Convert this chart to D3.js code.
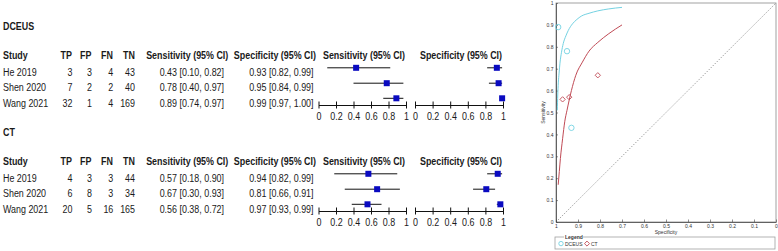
<!DOCTYPE html>
<html><head><meta charset="utf-8">
<script src="https://cdn.jsdelivr.net/npm/d3@7"></script>
<style>body{margin:0;background:#fff} svg{display:block}</style>
</head><body>
<svg id="c" width="778" height="251"></svg>
<script>
// ---------------- data ----------------
const groups = ["DCEUS", "CT"];
const studies = ["He 2019", "Shen 2020", "Wang 2021"];
const tp = [[3, 7, 32], [4, 6, 20]];
const fp = [[3, 2, 1], [3, 8, 5]];
const fn = [[4, 2, 4], [3, 3, 16]];
const tn = [[43, 40, 169], [44, 34, 165]];
const sens   = [[0.43, 0.78, 0.89], [0.57, 0.67, 0.56]];
const sensLo = [[0.10, 0.40, 0.74], [0.18, 0.30, 0.38]];
const sensHi = [[0.82, 0.97, 0.97], [0.90, 0.93, 0.72]];
const spec   = [[0.93, 0.95, 0.99], [0.94, 0.81, 0.97]];
const specLo = [[0.82, 0.84, 0.97], [0.82, 0.66, 0.93]];
const specHi = [[0.99, 0.99, 1.00], [0.99, 0.91, 0.99]];
const forestTicks = [0, 0.2, 0.4, 0.6, 0.8, 1];
const forestTickLabels = ["0", "0.2", "0.4", "0.6", "0.8", "1"];
const srocTicks = [0, 0.1, 0.2, 0.3, 0.4, 0.5, 0.6, 0.7, 0.8, 0.9, 1];
const srocTickLabels = ["0", "0.1", "0.2", "0.3", "0.4", "0.5", "0.6", "0.7", "0.8", "0.9", "1"];
// SROC curves (specificity, sensitivity)
const dceusCurveSpec = [0.994, 0.992, 0.9895, 0.986, 0.982, 0.975, 0.967, 0.955, 0.944, 0.925, 0.905, 0.885, 0.85, 0.81, 0.76, 0.70];
const dceusCurveSens = [0.51, 0.58, 0.635, 0.68, 0.725, 0.775, 0.815, 0.85, 0.875, 0.905, 0.925, 0.94, 0.953, 0.964, 0.973, 0.98];
const ctCurveSpec = [0.990, 0.985, 0.980, 0.970, 0.960, 0.950, 0.930, 0.910, 0.880, 0.850, 0.810, 0.760, 0.700];
const ctCurveSens = [0.17, 0.23, 0.29, 0.38, 0.46, 0.51, 0.60, 0.67, 0.73, 0.78, 0.82, 0.86, 0.90];

// ---------------- drawing ----------------
const svg = d3.select("#c");
const FONT = "'Liberation Sans', Arial, sans-serif";
const NARROW = 0.81;
const txtCol = "#1a1a1a";
const blue = "#0a0ac0";
const cyan = "#74d2e2";
const red = "#c04a55";

function ntext(g, x, y, str, anchor, bold) {
  return g.append("text")
    .attr("transform", `translate(${x},${y}) scale(${NARROW},1)`)
    .attr("text-anchor", anchor)
    .attr("font-family", FONT)
    .attr("font-size", 11)
    .attr("font-weight", bold ? "bold" : "normal")
    .attr("fill", txtCol)
    .text(str);
}
const f2 = d3.format(".2f");

const xSens = d3.scaleLinear().domain([0, 1]).range([318.5, 406]);
const xSpec = d3.scaleLinear().domain([0, 1]).range([415, 503]);

const sectionOffset = [0, 106];
const rowBase = [75.8, 91.2, 106.5];
const rowMark = [67.8, 83.2, 98.3];

groups.forEach((gName, gi) => {
  const off = sectionOffset[gi];
  const g = svg.append("g").attr("transform", `translate(0,${off})`);
  ntext(g, 3, 29.7, gName, "start", true);
  const hy = 59;
  ntext(g, 3, hy, "Study", "start", true);
  ntext(g, 72, hy, "TP", "end", true);
  ntext(g, 91.5, hy, "FP", "end", true);
  ntext(g, 113, hy, "FN", "end", true);
  ntext(g, 135, hy, "TN", "end", true);
  ntext(g, 228.3, hy, "Sensitivity (95% CI)", "end", true);
  ntext(g, 316, hy, "Specificity (95% CI)", "end", true);
  ntext(g, 364, hy, "Sensitivity (95% CI)", "middle", true);
  ntext(g, 461, hy, "Specificity (95% CI)", "middle", true);

  studies.forEach((s, i) => {
    const y = rowBase[i];
    ntext(g, 3, y, s, "start", false);
    ntext(g, 72.5, y, tp[gi][i], "end", false);
    ntext(g, 92, y, fp[gi][i], "end", false);
    ntext(g, 113.3, y, fn[gi][i], "end", false);
    ntext(g, 135, y, tn[gi][i], "end", false);
    ntext(g, 224, y, `${f2(sens[gi][i])} [${f2(sensLo[gi][i])}, ${f2(sensHi[gi][i])}]`, "end", false);
    ntext(g, 313.5, y, `${f2(spec[gi][i])} [${f2(specLo[gi][i])}, ${f2(specHi[gi][i])}]`, "end", false);

    const my = rowMark[i];
    g.append("line").attr("x1", xSens(sensLo[gi][i])).attr("x2", xSens(sensHi[gi][i]))
      .attr("y1", my).attr("y2", my).attr("stroke", "#111").attr("stroke-width", 1);
    g.append("rect").attr("x", xSens(sens[gi][i]) - 3).attr("y", my - 3)
      .attr("width", 6).attr("height", 6).attr("fill", blue);
    g.append("line").attr("x1", xSpec(specLo[gi][i])).attr("x2", xSpec(specHi[gi][i]))
      .attr("y1", my).attr("y2", my).attr("stroke", "#111").attr("stroke-width", 1);
    g.append("rect").attr("x", xSpec(spec[gi][i]) - 3).attr("y", my - 3)
      .attr("width", 6).attr("height", 6).attr("fill", blue);
  });

  [xSens, xSpec].forEach(sc => {
    const ax = g.append("g").attr("transform", "translate(0,105)")
      .call(d3.axisBottom(sc).tickValues(forestTicks)
        .tickFormat((d, i) => forestTickLabels[i]).tickSizeOuter(0).tickSizeInner(3.5));
    ax.select(".domain").attr("stroke", "#111");
    ax.selectAll(".tick line").attr("y1", -3.5).attr("y2", 3.5).attr("stroke", "#111");
    ax.selectAll(".tick text").attr("y", 15.5).attr("dy", 0)
      .attr("transform", `scale(${NARROW},1)`)
      .attr("font-family", FONT).attr("font-size", 11).attr("fill", txtCol);
  });
});

// ---------------- SROC plot ----------------
const sx = d3.scaleLinear().domain([1, 0]).range([556, 776]);
const sy = d3.scaleLinear().domain([0, 1]).range([222, 3]);
const sroc = svg.append("g");

sroc.append("rect").attr("x", sx(1)).attr("y", sy(1))
  .attr("width", sx(0) - sx(1)).attr("height", sy(0) - sy(1))
  .attr("fill", "none").attr("stroke", "#8a8a8a").attr("stroke-width", 0.8);

sroc.append("line").attr("x1", sx(1)).attr("y1", sy(0)).attr("x2", sx(0)).attr("y2", sy(1))
  .attr("stroke", "#777").attr("stroke-width", 0.8).attr("stroke-dasharray", "1.2,1.6");

const yAx = sroc.append("g").attr("transform", `translate(${sx(1)},0)`)
  .call(d3.axisLeft(sy).tickValues(srocTicks).tickFormat((d, i) => srocTickLabels[i])
    .tickSizeInner(-2).tickSizeOuter(0).tickPadding(2.5));
const xAx = sroc.append("g").attr("transform", `translate(0,${sy(0)})`)
  .call(d3.axisBottom(sx).tickValues(srocTicks).tickFormat((d, i) => srocTickLabels[i])
    .tickSizeInner(-2.5).tickSizeOuter(0).tickPadding(2.6));
[yAx, xAx].forEach(a => {
  a.select(".domain").attr("stroke", "#444").attr("stroke-width", 0.8);
  a.selectAll(".tick line").attr("stroke", "#444").attr("stroke-width", 0.6);
  a.selectAll(".tick text").attr("font-family", FONT).attr("font-size", 5).attr("fill", "#333");
});

sroc.append("text").attr("x", sx(0.5)).attr("y", 233.6).attr("text-anchor", "middle")
  .attr("font-family", FONT).attr("font-size", 5).attr("fill", "#333").text("Specificity");
sroc.append("text").attr("transform", `translate(544.5,${sy(0.5)}) rotate(-90)`)
  .attr("text-anchor", "middle").attr("font-family", FONT).attr("font-size", 5)
  .attr("fill", "#333").text("Sensitivity");

const line = d3.line().x(d => sx(d[0])).y(d => sy(d[1])).curve(d3.curveMonotoneX);
sroc.append("path").datum(dceusCurveSpec.map((s, i) => [s, dceusCurveSens[i]]))
  .attr("d", line).attr("fill", "none").attr("stroke", cyan).attr("stroke-width", 1);
sroc.append("path").datum(ctCurveSpec.map((s, i) => [s, ctCurveSens[i]]))
  .attr("d", line).attr("fill", "none").attr("stroke", red).attr("stroke-width", 1);

sens[0].forEach((v, i) => {
  sroc.append("circle").attr("cx", sx(spec[0][i])).attr("cy", sy(v)).attr("r", 2.7)
    .attr("fill", "none").attr("stroke", cyan).attr("stroke-width", 0.9);
});
const diamond = d3.symbol().type(d3.symbolDiamond2).size(18);
sens[1].forEach((v, i) => {
  sroc.append("path").attr("d", diamond)
    .attr("transform", `translate(${sx(spec[1][i])},${sy(v)})`)
    .attr("fill", "none").attr("stroke", red).attr("stroke-width", 0.9);
});

// legend
const lg = svg.append("g");
lg.append("rect").attr("x", 555).attr("y", 237).attr("width", 220).attr("height", 12)
  .attr("fill", "none").attr("stroke", "#a0a0a0").attr("stroke-width", 0.8);
lg.append("rect").attr("x", 564).attr("y", 235.6).attr("width", 19).attr("height", 3).attr("fill", "#fff");
lg.append("text").attr("x", 565).attr("y", 239.3).attr("font-family", FONT).attr("font-size", 5)
  .attr("font-weight", "bold").attr("fill", "#333").text("Legend");
lg.append("circle").attr("cx", 561).attr("cy", 243.6).attr("r", 2.2)
  .attr("fill", "none").attr("stroke", cyan).attr("stroke-width", 0.9);
lg.append("text").attr("x", 565).attr("y", 245.6).attr("font-family", FONT).attr("font-size", 5)
  .attr("fill", "#333").text(groups[0]);
lg.append("path").attr("d", d3.symbol().type(d3.symbolDiamond2).size(16)).attr("transform", "translate(587,243.6)")
  .attr("fill", "none").attr("stroke", red).attr("stroke-width", 0.9);
lg.append("text").attr("x", 591).attr("y", 245.6).attr("font-family", FONT).attr("font-size", 5)
  .attr("fill", "#333").text(groups[1]);
</script>
</body></html>
